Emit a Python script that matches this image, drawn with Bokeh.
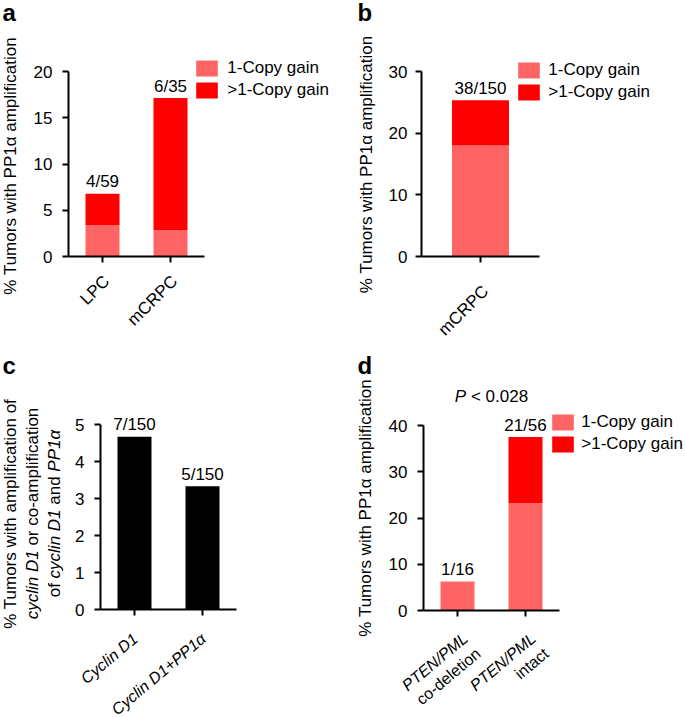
import math
from bokeh.plotting import figure
from bokeh.models import ColumnDataSource, Range1d, FixedTicker, Label, Legend, LegendItem
from bokeh.layouts import column, row
from bokeh.embed import file_html
from bokeh.resources import INLINE

# ---------------- data ----------------
a_groups = ["LPC", "mCRPC"]
a_one_copy = [3.39, 2.86]
a_more_copy = [3.39, 14.28]
a_counts = ["4/59", "6/35"]
a_yticks = [0, 5, 10, 15, 20]

b_groups = ["mCRPC"]
b_one_copy = [18.0]
b_more_copy = [7.33]
b_counts = ["38/150"]
b_yticks = [0, 10, 20, 30]

c_groups = ["Cyclin D1", "Cyclin D1+PP1α"]
c_values = [4.67, 3.33]
c_counts = ["7/150", "5/150"]
c_yticks = [0, 1, 2, 3, 4, 5]

d_groups_line1 = ["PTEN/PML", "PTEN/PML"]
d_groups_line2 = ["co-deletion", "intact"]
d_one_copy = [6.25, 23.21]
d_more_copy = [0.0, 14.29]
d_counts = ["1/16", "21/56"]
d_yticks = [0, 10, 20, 30, 40]
d_p_symbol = "P"
d_p_text = "< 0.028"

series_labels = ["1-Copy gain", ">1-Copy gain"]
ylabel_main = "% Tumors with PP1α amplification"

LIGHT = "#ff6464"
RED = "#ff0000"
FONT = "Liberation Sans"
BASE_FIX = 0.35  # em: correction so the alphabetic baseline lands where intended

# Arial / Liberation Sans advance widths (per 1000 em)
W = {' ': 278, '%': 889, '+': 584, '-': 333, '.': 278, '/': 278, '<': 584, '>': 584,
     'A': 667, 'B': 667, 'C': 722, 'D': 722, 'E': 667, 'F': 611, 'G': 778, 'H': 722, 'I': 278,
     'J': 500, 'K': 667, 'L': 556, 'M': 833, 'N': 722, 'O': 778, 'P': 667, 'Q': 778, 'R': 722,
     'S': 667, 'T': 611, 'U': 722, 'V': 667, 'W': 944, 'X': 667, 'Y': 667, 'Z': 611,
     'a': 556, 'b': 556, 'c': 500, 'd': 556, 'e': 556, 'f': 278, 'g': 556, 'h': 556, 'i': 222,
     'j': 222, 'k': 500, 'l': 222, 'm': 833, 'n': 556, 'o': 556, 'p': 556, 'q': 556, 'r': 333,
     's': 500, 't': 278, 'u': 556, 'v': 500, 'w': 722, 'x': 500, 'y': 500, 'z': 500, 'α': 578}
for _d in "0123456789":
    W[_d] = 556


def tw(text, fs):
    return sum(W.get(ch, 556) for ch in text) * fs / 1000.0


def make_fig(w, h, axis_x, zero_y, x_left, x_ppu, y_ppu, n_groups, y_ticks, standoff):
    """Frame covers the whole figure; axes are pinned with fixed_location."""
    xr = Range1d(x_left - axis_x / x_ppu, x_left + (w - axis_x) / x_ppu)
    yr = Range1d(-(h - zero_y) / y_ppu, zero_y / y_ppu)
    p = figure(width=w, height=h, x_range=xr, y_range=yr,
               output_backend="svg", toolbar_location=None, tools="", title=None,
               min_border=0, min_border_left=0, min_border_right=0, min_border_top=0,
               min_border_bottom=0)
    p.outline_line_color = None
    p.background_fill_color = "white"
    p.border_fill_color = "white"
    p.xgrid.visible = False
    p.ygrid.visible = False
    xa = p.xaxis[0]
    ya = p.yaxis[0]
    xa.fixed_location = 0
    ya.fixed_location = x_left
    xa.bounds = (x_left, n_groups + 0.5)
    ya.bounds = (y_ticks[0], y_ticks[-1])
    xa.ticker = FixedTicker(ticks=list(range(1, n_groups + 1)))
    ya.ticker = FixedTicker(ticks=y_ticks)
    for ax in (xa, ya):
        ax.axis_line_width = 2
        ax.axis_line_color = "black"
        ax.major_tick_line_width = 2
        ax.major_tick_line_color = "black"
        ax.major_tick_out = 6
        ax.major_tick_in = 0
        ax.minor_tick_line_color = None
        ax.major_label_text_font = FONT
        ax.major_label_text_color = "black"
    ya.major_label_text_font_size = "17px"
    ya.major_label_standoff = standoff
    xa.major_label_text_font_size = "1px"
    xa.major_label_text_color = None
    xa.major_label_standoff = 0
    return p


def add_text(p, text, x, y, x_units="data", y_units="data", size=17, style="normal",
             align="center", baseline="alphabetic", angle=0.0):
    p.add_layout(Label(x=x, y=y, x_units=x_units, y_units=y_units, text=text,
                       text_font=FONT, text_font_size=f"{size}px", text_font_style=style,
                       text_align=align, text_baseline=baseline, angle=angle,
                       text_color="black"))


def vertical_rich(p, segments, sx, sy_center, fs):
    total = sum(tw(t, fs) for t, _ in segments)
    pos = sy_center - total / 2.0
    for t, style in segments:
        lead = len(t) - len(t.lstrip(" "))
        s = t.strip(" ")
        if s:
            add_text(p, s, sx, pos + tw(" " * lead, fs), "screen", "screen", fs, style,
                     "left", "middle", math.pi / 2)
        pos += tw(t, fs)


def add_legend(p, renderers, loc, standoff, fs):
    items = [LegendItem(label=lab, renderers=[r]) for lab, r in zip(series_labels, renderers)]
    lg = Legend(items=items, location=loc, padding=0, margin=0, spacing=2,
                glyph_width=27, glyph_height=20, label_height=20, label_standoff=standoff,
                label_text_font=FONT, label_text_font_size=f"{fs}px",
                label_text_color="black", border_line_color=None,
                background_fill_alpha=0)
    p.add_layout(lg)


def letter(p, ch, x_px, baseline_from_top, h):
    add_text(p, ch, x_px, h - baseline_from_top + BASE_FIX * 24, "screen", "screen", 24, "bold",
             "left", "alphabetic")


def counts(p, xs, tops, texts, ppu):
    for xi, v, t in zip(xs, tops, texts):
        add_text(p, t, xi, v + (6 + BASE_FIX * 17) / ppu)


# ---------------- panel a ----------------
AW, AH = 340, 340
A_PPUX, A_PPUY = 68, 185 / 20
a_x = list(range(1, len(a_groups) + 1))
pa = make_fig(AW, AH, 68, 256, 0.5, A_PPUX, A_PPUY, len(a_groups), a_yticks, 10)
src_a = ColumnDataSource(dict(x=a_x, one=a_one_copy, more=a_more_copy))
ra = pa.vbar_stack(["one", "more"], x="x", width=0.5, color=[LIGHT, RED], line_color=None, source=src_a)
add_legend(pa, ra, (193.3, AH - 100), 7, 17)
counts(pa, a_x, [o + m for o, m in zip(a_one_copy, a_more_copy)], a_counts, A_PPUY)
for xi, g in zip(a_x, a_groups):
    add_text(pa, g, xi + 4 / A_PPUX, -22 / A_PPUY, size=17, align="right", baseline="middle",
             angle=math.pi / 4)
vertical_rich(pa, [(ylabel_main, "normal")], 10, AH - 165, 17)
letter(pa, "a", 2, 20, AH)

# ---------------- panel b ----------------
BW, BH = 344, 340
B_PPUX, B_PPUY = 118, 185 / 30
b_x = list(range(1, len(b_groups) + 1))
pb = make_fig(BW, BH, 81, 256, 0.5, B_PPUX, B_PPUY, len(b_groups), b_yticks, 8)
src_b = ColumnDataSource(dict(x=b_x, one=b_one_copy, more=b_more_copy))
rb = pb.vbar_stack(["one", "more"], x="x", width=57 / B_PPUX, color=[LIGHT, RED], line_color=None, source=src_b)
add_legend(pb, rb, (175.3, BH - 102), 6, 17)
counts(pb, b_x, [o + m for o, m in zip(b_one_copy, b_more_copy)], b_counts, B_PPUY)
for xi, g in zip(b_x, b_groups):
    add_text(pb, g, xi + 5 / B_PPUX, -32 / B_PPUY, size=17, align="right", baseline="middle",
             angle=math.pi / 4)
vertical_rich(pb, [(ylabel_main, "normal")], 26, BH - 163.5, 17)
letter(pb, "b", 17, 20, BH)

# ---------------- panel c ----------------
CW, CH = 340, 377
C_PPUX, C_PPUY = 68, 185 / 5
c_x = list(range(1, len(c_groups) + 1))
pc = make_fig(CW, CH, 100, 269, 0.5, C_PPUX, C_PPUY, len(c_groups), c_yticks, 10)
src_c = ColumnDataSource(dict(x=c_x, v=c_values))
pc.vbar(x="x", top="v", width=0.5, color="black", line_color=None, source=src_c)
counts(pc, c_x, c_values, c_counts, C_PPUY)
ang_c = math.radians(40)
for xi, g in zip(c_x, c_groups):
    add_text(pc, g, xi + 1 / C_PPUX, -27 / C_PPUY, size=16, style="italic", align="right",
             baseline="middle", angle=ang_c)
c_center = CH - 173
vertical_rich(pc, [("% Tumors with amplification of", "normal")], 10, c_center, 17)
vertical_rich(pc, [("cyclin D1", "italic"), (" or co-amplification", "normal")], 32, c_center, 17)
vertical_rich(pc, [("of ", "normal"), ("cyclin D1", "italic"), (" and ", "normal"), ("PP1α", "italic")],
              54, c_center, 17)
letter(pc, "c", 2, 33, CH)

# ---------------- panel d ----------------
DW, DH = 344, 377
D_PPUX, D_PPUY = 68, 185 / 40
d_x = list(range(1, len(d_one_copy) + 1))
pd_ = make_fig(DW, DH, 83, 270, 0.5, D_PPUX, D_PPUY, len(d_x), d_yticks, 10)
src_d = ColumnDataSource(dict(x=d_x, one=d_one_copy, more=d_more_copy))
rd = pd_.vbar_stack(["one", "more"], x="x", width=0.5, color=[LIGHT, RED], line_color=None, source=src_d)
add_legend(pd_, rd, (209.3, DH - 114), 5, 17)
counts(pd_, d_x, [o + m for o, m in zip(d_one_copy, d_more_copy)], d_counts, D_PPUY)
ang_d = math.radians(40)
pitch = 20
for xi, g1, g2 in zip(d_x, d_groups_line1, d_groups_line2):
    x1 = xi + 8 / D_PPUX
    y1 = -25.5
    add_text(pd_, g1, x1, y1 / D_PPUY, size=16, style="italic", align="right", baseline="middle",
             angle=ang_d)
    add_text(pd_, g2, x1 + pitch * math.sin(ang_d) / D_PPUX, (y1 - pitch * math.cos(ang_d)) / D_PPUY,
             size=16, style="normal", align="right", baseline="middle", angle=ang_d)
# P value, centred between the two bars
p_mid = (d_x[0] + d_x[-1]) / 2
p_total = tw(d_p_symbol + " " + d_p_text, 17)
p_start = -p_total / 2
p_y = d_yticks[-1] + (208 - 40 * D_PPUY + BASE_FIX * 17) / D_PPUY
add_text(pd_, d_p_symbol, p_mid + p_start / D_PPUX, p_y, size=17, style="italic", align="left")
add_text(pd_, d_p_text, p_mid + (p_start + tw(d_p_symbol + " ", 17)) / D_PPUX, p_y,
         size=17, style="normal", align="left")
vertical_rich(pd_, [(ylabel_main, "normal")], 24.5, DH - 167, 17)
letter(pd_, "d", 17, 33, DH)

layout = column(row(pa, pb), row(pc, pd_))
open("out.html", "w").write(file_html(layout, INLINE))
